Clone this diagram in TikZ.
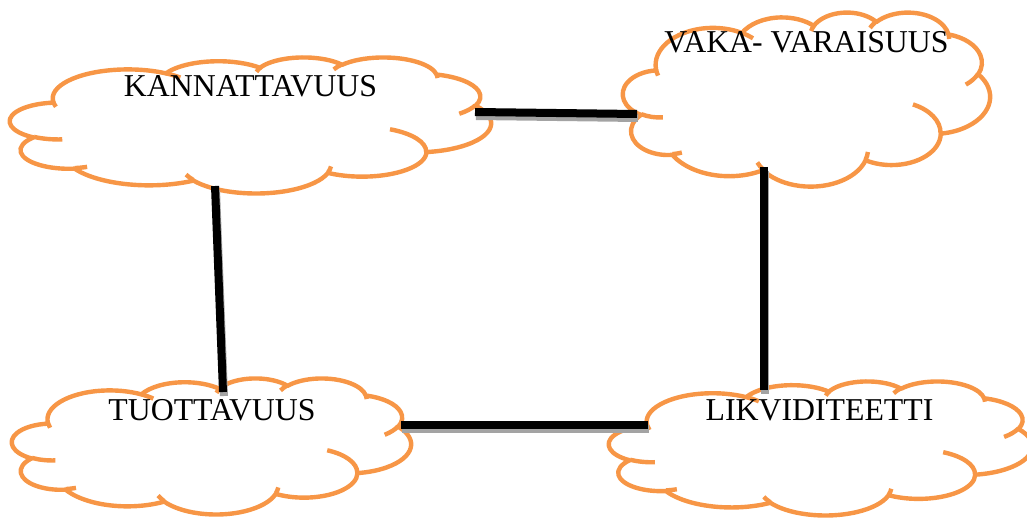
\documentclass[tikz,border=0pt]{standalone}
\usepackage{fontspec}
\setmainfont{Liberation Serif}
\definecolor{cloudorange}{HTML}{F79646}
\definecolor{shadowgray}{HTML}{A3A3A3}
\tikzset{
  cloudline/.style={draw=cloudorange, line width=4.4pt, line join=round, fill=white},
  cloudinner/.style={draw=cloudorange, line width=4.4pt},
  cloudbox/.style={inner sep=0pt, outer sep=0pt, anchor=north west},
  link/.style={draw=black, line width=8pt},
  linkshadow/.style={draw=shadowgray, line width=8pt},
  cloudtext/.style={inner sep=0pt, anchor=base, font=\fontsize{31.8}{36}\selectfont}
}
% parametric angles for the arcs of the cloud (geometric angles -> ellipse parameter)
\newcommand\cldcalc[5]{%
  \pgfmathsetmacro\tmpA{atan2((#2)*sin(#4),(#3)*cos(#4))}%
  \pgfmathsetmacro\tmpB{atan2((#2)*sin((#4)+(#5)),(#3)*cos((#4)+(#5)))}%
  \pgfmathsetmacro\tmpD{mod(\tmpB-\tmpA+540,360)-180}%
  \expandafter\xdef\csname cs#1\endcsname{\tmpA}%
  \expandafter\xdef\csname cd#1\endcsname{\tmpD}%
}
\newcommand\carc[3]{arc[start angle=\csname cs#1\endcsname, delta angle=\csname cd#1\endcsname, x radius=#2, y radius=#3]}
\newcommand\drawcloud[4]{%
  \begin{scope}[shift={(#1,#2)}, x={(#3pt/43.2,0pt)}, y={(0pt,-#4pt/43.2)}]
    \path[cloudline] (3.9,14.37)
      \carc{A}{6.753}{9.19} \carc{B}{5.333}{7.267} \carc{C}{4.365}{5.945}
      \carc{D}{4.857}{6.595} \carc{E}{5.333}{7.273} \carc{F}{6.775}{9.22}
      \carc{G}{5.785}{7.867} \carc{H}{6.752}{9.215} \carc{I}{7.72}{10.543}
      \carc{J}{4.36}{5.918} \carc{K}{4.345}{5.945} -- cycle;
    \path[cloudinner]
      (4.693,26.177) \carc{inA}{4.345}{5.945}
      (6.928,34.899) \carc{inB}{4.36}{5.918}
      (16.478,39.09) \carc{inC}{6.752}{9.215}
      (28.827,34.751) \carc{inD}{6.752}{9.215}
      (34.129,22.954) \carc{inE}{5.785}{7.867}
      (41.798,15.354) \carc{inF}{5.333}{7.273}
      (38.324,5.426) \carc{inG}{4.857}{6.595}
      (29.078,3.952) \carc{inH}{4.857}{6.595}
      (22.141,4.72) \carc{inI}{4.365}{5.945}
      (14.0,5.192) \carc{inJ}{6.753}{9.19}
      (4.127,15.789) \carc{inK}{6.753}{9.19};
  \end{scope}}
\begin{document}
\begin{tikzpicture}[x=1pt, y=-1pt]
  \cldcalc{A}{6.753}{9.19}{-190.4875}{123.7805}%
  \cldcalc{B}{5.333}{7.267}{-144.1024}{89.9452}%
  \cldcalc{C}{4.365}{5.945}{-145.8079}{99.7230}%
  \cldcalc{D}{4.857}{6.595}{-130.9861}{117.2417}%
  \cldcalc{E}{5.333}{7.273}{-78.7089}{109.0269}%
  \cldcalc{F}{6.775}{9.22}{-46.2673}{130.2690}%
  \cldcalc{G}{5.785}{7.867}{0.6250}{114.0333}%
  \cldcalc{H}{6.752}{9.215}{22.4516}{115.1726}%
  \cldcalc{I}{7.72}{10.543}{66.2426}{75.7110}%
  \cldcalc{J}{4.36}{5.918}{-274.9421}{146.7356}%
  \cldcalc{K}{4.345}{5.945}{-246.8285}{152.5189}%
  \cldcalc{inA}{4.345}{5.945}{86.7420}{26.4295}%
  \cldcalc{inB}{4.36}{5.918}{73.6105}{11.4475}%
  \cldcalc{inC}{6.752}{9.215}{137.6241}{14.0811}%
  \cldcalc{inD}{6.752}{9.215}{6.4533}{15.9984}%
  \cldcalc{inE}{5.785}{7.867}{-70.2924}{70.9174}%
  \cldcalc{inF}{5.333}{7.273}{30.3180}{27.7515}%
  \cldcalc{inG}{4.857}{6.595}{-13.7443}{14.8589}%
  \cldcalc{inH}{4.857}{6.595}{-149.1815}{18.1954}%
  \cldcalc{inI}{4.365}{5.945}{-163.4943}{17.6864}%
  \cldcalc{inJ}{6.753}{9.19}{-66.7070}{12.3194}%
  \cldcalc{inK}{6.753}{9.19}{157.6544}{11.8582}%
  \useasboundingbox (0,0) rectangle (1027,518);
  \clip (0,0) rectangle (1027,518);
  % cloud areas (named)
  \node[cloudbox, minimum width=481pt, minimum height=136pt] (kann) at (10,57) {};
  \node[cloudbox, minimum width=367pt, minimum height=174pt] (vaka) at (623,12) {};
  \node[cloudbox, minimum width=399pt, minimum height=136pt] (tuot) at (12,378) {};
  \node[cloudbox, minimum width=423pt, minimum height=134pt] (likv) at (609,381) {};
  \drawcloud{10}{57}{481}{136}
  \drawcloud{623}{12}{367}{174}
  \drawcloud{12}{378}{399}{136}
  \drawcloud{609}{381}{423}{134}
  % connector end points
  \coordinate (kR) at (475,112);
  \coordinate (vL) at (637,114);
  \coordinate (kB) at (215,186);
  \coordinate (tT) at (223,392);
  \coordinate (vB) at (764,167);
  \coordinate (lT) at (764,390);
  \coordinate (tR) at (401,425);
  \coordinate (lL) at (648,425);
  % shadows
  \draw[linkshadow] ([xshift=1pt,yshift=-4pt]kR) -- ([xshift=1pt,yshift=-4pt]vL);
  \draw[linkshadow] ([xshift=1pt,yshift=-4pt]kB) -- ([xshift=1pt,yshift=-4pt]tT);
  \draw[linkshadow] ([xshift=1pt,yshift=-4pt]vB) -- ([xshift=1pt,yshift=-4pt]lT);
  \draw[linkshadow] ([xshift=1pt,yshift=-4pt]tR) -- ([xshift=1pt,yshift=-4pt]lL);
  % connectors
  \draw[link] (kR) -- (vL);
  \draw[link] (kB) -- (tT);
  \draw[link] (vB) -- (lT);
  \draw[link] (tR) -- (lL);
  % texts
  \node[cloudtext] (t1) at (250.5,97) {KANNATTAVUUS};
  \node[cloudtext] (t2) at (806.5,53) {VAKA- VARAISUUS};
  \node[cloudtext] (t3) at (212,420) {TUOTTAVUUS};
  \node[cloudtext] (t4) at (819.5,420) {LIKVIDITEETTI};
\end{tikzpicture}
\end{document}
